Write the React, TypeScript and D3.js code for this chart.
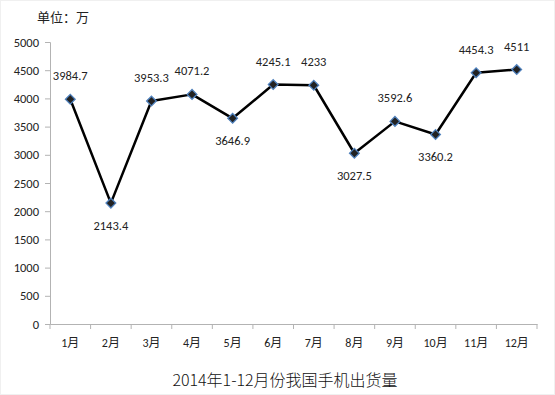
import React, { useEffect, useRef } from 'react';
import * as d3 from 'd3';

const months = ['1月', '2月', '3月', '4月', '5月', '6月', '7月', '8月', '9月', '10月', '11月', '12月'];
const shipments = [3984.7, 2143.4, 3953.3, 4071.2, 3646.9, 4245.1, 4233, 3027.5, 3592.6, 3360.2, 4454.3, 4511];
const labelBelow = [false, true, false, false, true, false, false, true, false, true, false, false];
const yTicks = d3.range(0, 5001, 500);

const W = 555;
const H = 395;

export default function App() {
  const ref = useRef<SVGSVGElement>(null);

  useEffect(() => {
    const svg = d3.select(ref.current);
    svg.selectAll('*').remove();

    const margin = { top: 42, right: 18, bottom: 71, left: 50 };
    const width = W - margin.left - margin.right;
    const height = H - margin.top - margin.bottom;
    const font = 'Carlito, Calibri, "Noto Sans CJK SC", sans-serif';

    const x = d3.scaleBand().domain(months).range([0, width]);
    const y = d3.scaleLinear().domain([0, 5000]).range([height, 0]);

    svg.append('rect')
      .attr('x', 0.5).attr('y', 0.5)
      .attr('width', W - 1).attr('height', H - 1)
      .attr('fill', '#fff').attr('stroke', '#f0f0f0');

    const g = svg.append('g').attr('transform', `translate(${margin.left},${margin.top})`);

    // y axis
    const yAxis = g.append('g').call(d3.axisLeft(y).tickValues(yTicks).tickFormat(d3.format('d')).tickSize(5).tickPadding(6));
    yAxis.select('.domain').attr('stroke', '#b3b3b3');
    yAxis.selectAll('.tick line').attr('stroke', '#b3b3b3');
    yAxis.selectAll('text').attr('font-family', font).attr('font-size', 12.5).attr('fill', '#222');

    // x axis, ticks at category boundaries
    const xAxis = g.append('g').attr('transform', `translate(0,${height})`)
      .call(d3.axisBottom(x).tickSize(0).tickPadding(14));
    xAxis.select('.domain').attr('stroke', '#b3b3b3');
    xAxis.selectAll('text').attr('font-family', font).attr('font-size', 12).attr('fill', '#222');
    g.append('g').selectAll('line')
      .data(d3.range(months.length + 1))
      .enter().append('line')
      .attr('x1', i => i * x.bandwidth()).attr('x2', i => i * x.bandwidth())
      .attr('y1', height).attr('y2', height + 5)
      .attr('stroke', '#b3b3b3');

    const cx = (d: string) => (x(d) ?? 0) + x.bandwidth() / 2;

    const line = d3.line<number>()
      .x((_, i) => cx(months[i]))
      .y(d => y(d));

    g.append('path')
      .datum(shipments)
      .attr('fill', 'none')
      .attr('stroke', '#000')
      .attr('stroke-width', 2.5)
      .attr('stroke-linejoin', 'round')
      .attr('d', line);

    const diamond = d3.symbol().type(d3.symbolDiamond2).size(60);
    g.selectAll('.dot')
      .data(shipments)
      .enter().append('path')
      .attr('class', 'dot')
      .attr('d', diamond)
      .attr('transform', (d, i) => `translate(${cx(months[i])},${y(d)})`)
      .attr('fill', '#222')
      .attr('stroke', '#4f81bd')
      .attr('stroke-width', 1.3);

    g.selectAll('.lbl')
      .data(shipments)
      .enter().append('text')
      .attr('class', 'lbl')
      .attr('x', (d, i) => cx(months[i]))
      .attr('y', (d, i) => y(d) + (labelBelow[i] ? 27 : -19))
      .attr('text-anchor', 'middle')
      .attr('font-family', font)
      .attr('font-size', 12.5)
      .attr('fill', '#222')
      .text(d => String(d));

    svg.append('text')
      .attr('x', 37).attr('y', 22)
      .attr('font-family', '"Noto Sans CJK SC", sans-serif')
      .attr('font-size', 13)
      .attr('fill', '#222')
      .text('单位：万');

    svg.append('text')
      .attr('x', 285).attr('y', 386)
      .attr('text-anchor', 'middle')
      .attr('font-family', '"Noto Sans CJK SC", sans-serif')
      .attr('font-weight', 300)
      .attr('font-size', 16)
      .attr('fill', '#111')
      .text('2014年1-12月份我国手机出货量');
  }, []);

  return (
    <svg ref={ref} width={W} height={H}
      style={{ position: 'absolute', left: 0, top: 0, display: 'block' }} />
  );
}
